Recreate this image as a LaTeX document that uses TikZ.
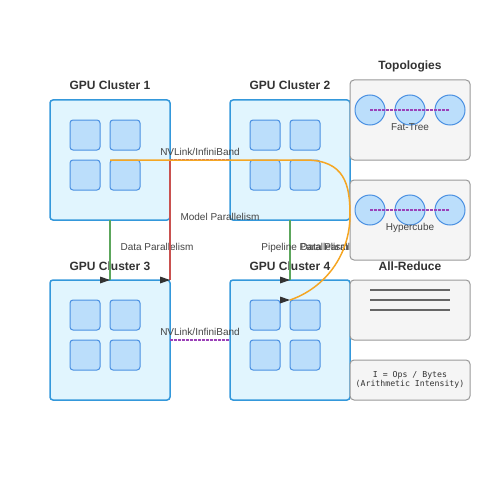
\documentclass[tikz,border=0pt]{standalone}
\usepackage{fontspec}
\setmainfont{Liberation Sans}
\setmonofont{DejaVu Sans Mono}
\usepackage{xcolor}
\usepackage{tikz}
\usetikzlibrary{calc}
\usetikzlibrary{positioning}

\definecolor{clusterfill}{HTML}{E1F5FE}
\definecolor{clusterline}{HTML}{3498DB}
\definecolor{gpufill}{HTML}{BBDEFB}
\definecolor{gpuline}{HTML}{4A90E2}
\definecolor{datagreen}{HTML}{5CA65C}
\definecolor{modelred}{HTML}{C9514F}
\definecolor{pipeorange}{HTML}{F5A623}
\definecolor{linkpurple}{HTML}{9B42B8}
\definecolor{panelfill}{HTML}{F5F5F5}
\definecolor{panelline}{HTML}{999999}
\definecolor{textdark}{HTML}{333333}
\definecolor{textlabel}{HTML}{444444}

\begin{document}
\begin{tikzpicture}[x=1pt,y=-1pt,
	cluster/.style={draw=clusterline,fill=clusterfill,line width=1.5pt,rounded corners=3pt,minimum size=120pt,inner sep=0pt,outer sep=0pt},
	gpu/.style={draw=gpuline,fill=gpufill,line width=1pt,rounded corners=3pt,minimum size=30pt,inner sep=0pt,outer sep=0pt},
	title/.style={text=textdark,font=\fontsize{12}{14}\selectfont\bfseries,inner sep=0pt,anchor=base},
	lbl/.style={text=textlabel,font=\fontsize{10}{12}\selectfont,inner sep=0pt,anchor=base},
	panel/.style={draw=panelline,fill=panelfill,line width=1pt,rounded corners=4pt,minimum width=120pt,inner sep=0pt,outer sep=0pt},
	topo/.style={circle,draw=gpuline,fill=gpufill,line width=1pt,minimum size=30pt,inner sep=0pt},
	link/.style={linkpurple,line width=1.5pt,dash pattern=on 2.5pt off 1.5pt},
	pics/arrowtip/.style={code={\fill[textdark] (0,0) -- (-10,-3.5) -- (-10,3.5) -- cycle;}}]

		\useasboundingbox (0,0) rectangle (500,500);

		% clusters
		\node[cluster] (c1) at (110,160) {};
		\node[cluster] (c2) [right=60pt of c1] {};
		\node[cluster] (c3) [below=60pt of c1] {};
		\node[cluster] (c4) [right=60pt of c3] {};

		% gpus in each cluster
		\foreach \k in {1,2,3,4} {
			\node[gpu] (g\k-1) at ($(c\k.center)+(-25,-25)$) {};
			\node[gpu] (g\k-2) [right=10pt of g\k-1] {};
			\node[gpu] (g\k-3) [below=10pt of g\k-1] {};
			\node[gpu] (g\k-4) [right=10pt of g\k-3] {};
		}

		% cluster titles
		\node[title] at ($(c1.north)+(0,-10)$) {GPU Cluster 1};
		\node[title] at ($(c2.north)+(0,-10)$) {GPU Cluster 2};
		\node[title] at ($(c3.north)+(0,-10)$) {GPU Cluster 3};
		\node[title] at ($(c4.north)+(0,-10)$) {GPU Cluster 4};

		% nvlink between clusters
		\draw[link] (c1.east) -- (c2.west) node[lbl,midway,yshift=5pt] {NVLink/InfiniBand};
		\draw[link] (c3.east) -- (c4.west) node[lbl,midway,yshift=5pt] {NVLink/InfiniBand};

		% data parallelism
		\draw[datagreen,line width=1.5pt] (c1.south) -- (c3.north) node[lbl,midway,xshift=47pt] {Data Parallelism};
		\draw[datagreen,line width=1.5pt] (c2.south) -- (c4.north) node[lbl,midway,xshift=47pt] {Data Parallelism};

		% model parallelism
		\draw[modelred,line width=1.5pt] (c1.east) -- (c3.north east);
		\node[lbl] at (220,220) {Model Parallelism};

		% pipeline parallelism
		\node[lbl] at (305,250) {Pipeline Parallelism};

		% topologies
		\node[title] at (410,70) {Topologies};
		\node[panel,minimum height=80pt] (t1) at (410,120) {};
		\node[panel,minimum height=80pt] (t2) [below=20pt of t1] {};
		\foreach \i/\dx in {1/-40,2/0,3/40} {
			\node[topo] (ft\i) at ($(t1.center)+(\dx,-10)$) {};
			\node[topo] (hc\i) at ($(t2.center)+(\dx,-10)$) {};
		}
		\draw[link] (ft1.center) -- (ft3.center);
		\draw[link] (hc1.center) -- (hc3.center);
		\node[lbl] at ($(t1.center)+(0,10)$) {Fat-Tree};
		\node[lbl] at ($(t2.center)+(0,10)$) {Hypercube};

		% all-reduce
		\node[title] at (410,270) {All-Reduce};
		\node[panel,minimum height=60pt] (ar) at (410,310) {};
		\foreach \y in {290,300,310}
			\draw[black!60,line width=2pt] (370,\y) -- (450,\y);

		% arithmetic intensity
		\node[panel,minimum height=40pt,text=textdark,align=center,font=\ttfamily\fontsize{8.2}{9.5}\selectfont] (ai) [below=20pt of ar] {I = Ops / Bytes\\(Arithmetic Intensity)};

		% pipeline curve
		\draw[pipeorange,line width=1.5pt] (c1.center) -- (305,160) .. controls (345,160) and (350,185) .. (350,215) .. controls (350,255) and (325,288) .. (g4-2.north west);

		% arrow tips
		\pic at (c3.north) {arrowtip};
		\pic at (c3.north east) {arrowtip};
		\pic at (c4.north) {arrowtip};
		\pic at (g4-2.north west) {arrowtip};

	\end{tikzpicture}
\end{document}
